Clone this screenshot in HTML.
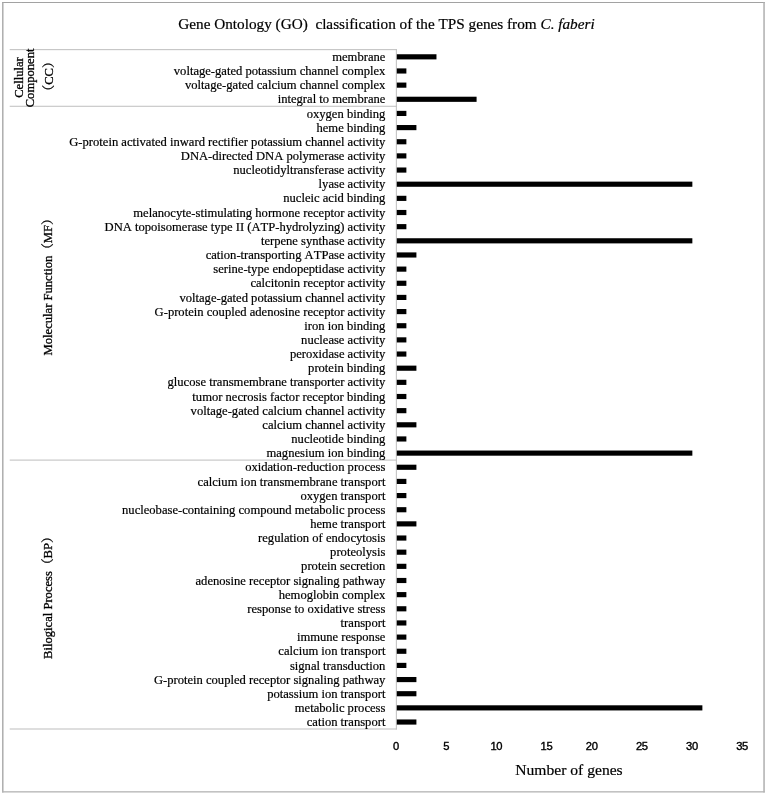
<!DOCTYPE html>
<html><head><meta charset="utf-8"><title>GO classification</title>
<style>
html,body{margin:0;padding:0;background:#fff;}
#c{font-kerning:none;font-variant-ligatures:none;position:relative;width:767px;height:795px;overflow:hidden;background:#fff;font-family:"Liberation Serif","Noto Serif CJK SC",serif;color:#000;-webkit-text-stroke:0.2px #000;}
#c div{position:absolute;white-space:nowrap;}
#c svg{position:absolute;left:0;top:0;}
.l{text-align:right;left:0;width:385.4px;font-size:12.6px;line-height:14px;height:14px;}
.t{font-family:"Liberation Sans",sans-serif;font-size:11.2px;line-height:14px;width:40px;text-align:center;top:738.8px;-webkit-text-stroke:0.38px #000;letter-spacing:-0.35px;}
</style></head><body><div id="c">
<svg width="767" height="795" viewBox="0 0 767 795" font-family="Liberation Serif, Noto Serif CJK SC, serif" font-size="12.6" fill="#000" stroke="#000" stroke-width="0.3">
<g stroke="none"><rect x="2" y="2" width="763" height="1" fill="#a2a2a2"/><rect x="2.1" y="2" width="1.4" height="790.5" fill="#a8a8a8"/><rect x="763.3" y="2" width="1.5" height="790.5" fill="#b0b0b0"/><rect x="2.1" y="791.2" width="762.7" height="1.3" fill="#b4b4b4"/></g>
<g fill="#bebebe" stroke="none"><rect x="9.7" y="49.15" width="387.15" height="1"/><rect x="9.7" y="105.76" width="387.15" height="1"/><rect x="9.7" y="459.59" width="387.15" height="1"/><rect x="9.7" y="728.50" width="387.15" height="1"/><rect x="395.85" y="49.15" width="1" height="680.35"/></g>
<g fill="#000" stroke="none">
<rect x="396.80" y="54.25" width="39.67" height="5.15"/><rect x="396.80" y="68.40" width="9.58" height="5.15"/><rect x="396.80" y="82.56" width="9.58" height="5.15"/><rect x="396.80" y="96.71" width="79.79" height="5.15"/><rect x="396.80" y="110.86" width="9.58" height="5.15"/><rect x="396.80" y="125.02" width="19.61" height="5.15"/>
<rect x="396.80" y="139.17" width="9.58" height="5.15"/><rect x="396.80" y="153.32" width="9.58" height="5.15"/><rect x="396.80" y="167.48" width="9.58" height="5.15"/><rect x="396.80" y="181.63" width="295.55" height="5.15"/><rect x="396.80" y="195.78" width="9.58" height="5.15"/><rect x="396.80" y="209.94" width="9.58" height="5.15"/>
<rect x="396.80" y="224.09" width="9.58" height="5.15"/><rect x="396.80" y="238.24" width="295.55" height="5.15"/><rect x="396.80" y="252.40" width="19.61" height="5.15"/><rect x="396.80" y="266.55" width="9.58" height="5.15"/><rect x="396.80" y="280.70" width="9.58" height="5.15"/><rect x="396.80" y="294.85" width="9.58" height="5.15"/>
<rect x="396.80" y="309.01" width="9.58" height="5.15"/><rect x="396.80" y="323.16" width="9.58" height="5.15"/><rect x="396.80" y="337.31" width="9.58" height="5.15"/><rect x="396.80" y="351.47" width="9.58" height="5.15"/><rect x="396.80" y="365.62" width="19.61" height="5.15"/><rect x="396.80" y="379.77" width="9.58" height="5.15"/>
<rect x="396.80" y="393.93" width="9.58" height="5.15"/><rect x="396.80" y="408.08" width="9.58" height="5.15"/><rect x="396.80" y="422.23" width="19.61" height="5.15"/><rect x="396.80" y="436.39" width="9.58" height="5.15"/><rect x="396.80" y="450.54" width="295.55" height="5.15"/><rect x="396.80" y="464.69" width="19.61" height="5.15"/>
<rect x="396.80" y="478.85" width="9.58" height="5.15"/><rect x="396.80" y="493.00" width="9.58" height="5.15"/><rect x="396.80" y="507.15" width="9.58" height="5.15"/><rect x="396.80" y="521.30" width="19.61" height="5.15"/><rect x="396.80" y="535.46" width="9.58" height="5.15"/><rect x="396.80" y="549.61" width="9.58" height="5.15"/>
<rect x="396.80" y="563.76" width="9.58" height="5.15"/><rect x="396.80" y="577.92" width="9.58" height="5.15"/><rect x="396.80" y="592.07" width="9.58" height="5.15"/><rect x="396.80" y="606.22" width="9.58" height="5.15"/><rect x="396.80" y="620.38" width="9.58" height="5.15"/><rect x="396.80" y="634.53" width="9.58" height="5.15"/>
<rect x="396.80" y="648.68" width="9.58" height="5.15"/><rect x="396.80" y="662.84" width="9.58" height="5.15"/><rect x="396.80" y="676.99" width="19.61" height="5.15"/><rect x="396.80" y="691.14" width="19.61" height="5.15"/><rect x="396.80" y="705.30" width="305.58" height="5.15"/><rect x="396.80" y="719.45" width="19.61" height="5.15"/>
</g>
<text transform="translate(23.0,77.5) rotate(-90)" text-anchor="middle">Cellular</text>
<text transform="translate(34.4,77.9) rotate(-90)" text-anchor="middle">Component</text>
<text transform="translate(53.0,76.4) rotate(-90)" text-anchor="middle">（CC）</text>
<text transform="translate(52.1,355.4) rotate(-90)">Molecular Function（MF）</text>
<text transform="translate(52.1,658.9) rotate(-90)">Bilogical Process（BP）</text>
</svg>
<div id="title" style="left:178.3px;top:13.599999999999998px;font-size:15.24px;line-height:20px;white-space:pre">Gene Ontology (GO)  classification of the TPS genes from <i>C. faberi</i></div>
<div class="l" style="top:49.93px">membrane</div>
<div class="l" style="top:64.08px">voltage-gated potassium channel complex</div>
<div class="l" style="top:78.23px">voltage-gated calcium channel complex</div>
<div class="l" style="top:92.39px">integral to membrane</div>
<div class="l" style="top:106.54px">oxygen binding</div>
<div class="l" style="top:120.69px">heme binding</div>
<div class="l" style="top:134.85px">G-protein activated inward rectifier potassium channel activity</div>
<div class="l" style="top:149.00px">DNA-directed DNA polymerase activity</div>
<div class="l" style="top:163.15px">nucleotidyltransferase activity</div>
<div class="l" style="top:177.30px">lyase activity</div>
<div class="l" style="top:191.46px">nucleic acid binding</div>
<div class="l" style="top:205.61px">melanocyte-stimulating hormone receptor activity</div>
<div class="l" style="top:219.76px">DNA topoisomerase type II (ATP-hydrolyzing) activity</div>
<div class="l" style="top:233.92px">terpene synthase activity</div>
<div class="l" style="top:248.07px">cation-transporting ATPase activity</div>
<div class="l" style="top:262.22px">serine-type endopeptidase activity</div>
<div class="l" style="top:276.38px">calcitonin receptor activity</div>
<div class="l" style="top:290.53px">voltage-gated potassium channel activity</div>
<div class="l" style="top:304.68px">G-protein coupled adenosine receptor activity</div>
<div class="l" style="top:318.84px">iron ion binding</div>
<div class="l" style="top:332.99px">nuclease activity</div>
<div class="l" style="top:347.14px">peroxidase activity</div>
<div class="l" style="top:361.30px">protein binding</div>
<div class="l" style="top:375.45px">glucose transmembrane transporter activity</div>
<div class="l" style="top:389.60px">tumor necrosis factor receptor binding</div>
<div class="l" style="top:403.75px">voltage-gated calcium channel activity</div>
<div class="l" style="top:417.91px">calcium channel activity</div>
<div class="l" style="top:432.06px">nucleotide binding</div>
<div class="l" style="top:446.21px">magnesium ion binding</div>
<div class="l" style="top:460.37px">oxidation-reduction process</div>
<div class="l" style="top:474.52px">calcium ion transmembrane transport</div>
<div class="l" style="top:488.67px">oxygen transport</div>
<div class="l" style="top:502.83px">nucleobase-containing compound metabolic process</div>
<div class="l" style="top:516.98px">heme transport</div>
<div class="l" style="top:531.13px">regulation of endocytosis</div>
<div class="l" style="top:545.29px">proteolysis</div>
<div class="l" style="top:559.44px">protein secretion</div>
<div class="l" style="top:573.59px">adenosine receptor signaling pathway</div>
<div class="l" style="top:587.75px">hemoglobin complex</div>
<div class="l" style="top:601.90px">response to oxidative stress</div>
<div class="l" style="top:616.05px">transport</div>
<div class="l" style="top:630.20px">immune response</div>
<div class="l" style="top:644.36px">calcium ion transport</div>
<div class="l" style="top:658.51px">signal transduction</div>
<div class="l" style="top:672.66px">G-protein coupled receptor signaling pathway</div>
<div class="l" style="top:686.82px">potassium ion transport</div>
<div class="l" style="top:700.97px">metabolic process</div>
<div class="l" style="top:715.12px">cation transport</div>
<div class="t" style="left:375.95px">0</div>
<div class="t" style="left:426.10px">5</div>
<div class="t" style="left:476.25px">10</div>
<div class="t" style="left:526.40px">15</div>
<div class="t" style="left:571.65px">20</div>
<div class="t" style="left:621.80px">25</div>
<div class="t" style="left:671.95px">30</div>
<div class="t" style="left:722.10px">35</div>
<div id="xl" style="left:515.3px;top:760.4px;font-size:15.6px;line-height:20px">Number of genes</div>
</div></body></html>
